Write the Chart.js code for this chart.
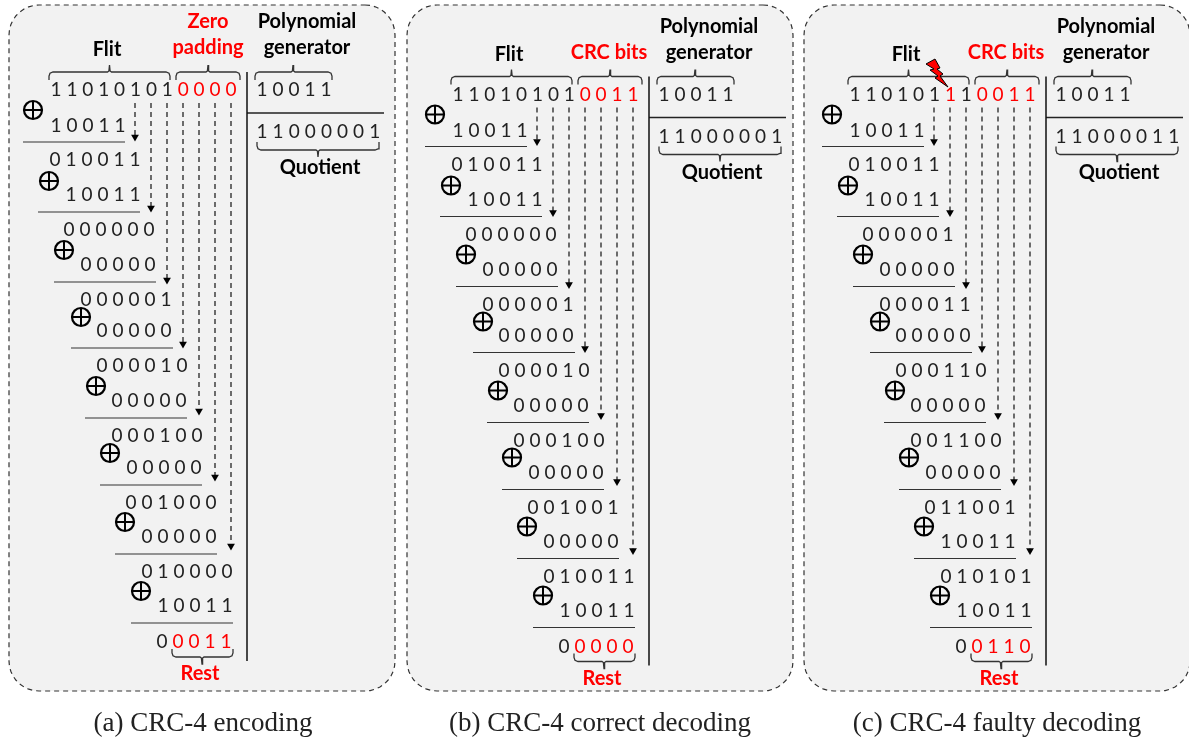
<!DOCTYPE html>
<html>
<head>
<meta charset="utf-8">
<title>CRC-4</title>
<script src="https://cdn.jsdelivr.net/npm/chart.js"></script>
<style>
  body { margin: 0; background: #fff; }
  canvas { display: block; }
</style>
</head>
<body>
<canvas id="myChart" width="1189" height="745"></canvas>
<script>
// bit strings, one list per panel
const captions = ['(a) CRC-4 encoding', '(b) CRC-4 correct decoding', '(c) CRC-4 faulty decoding'];
const flitBits = ['11010101', '11010101', '11010111'];
const crcBits = ['0000', '0011', '0011'];
const crcTitles = [['Zero', 'padding'], ['CRC bits'], ['CRC bits']];
const polyBits = '10011';
const quotients = ['11000001', '11000001', '11000011'];
const upperRowsA = ['010011', '000000', '000001', '000010', '000100', '001000', '010000'];
const upperRowsB = ['010011', '000000', '000001', '000010', '000100', '001001', '010011'];
const upperRowsC = ['010011', '000001', '000011', '000110', '001100', '011001', '010101'];
const lowerRowsA = ['10011', '10011', '00000', '00000', '00000', '00000', '00000', '10011'];
const lowerRowsB = ['10011', '10011', '00000', '00000', '00000', '00000', '00000', '10011'];
const lowerRowsC = ['10011', '10011', '00000', '00000', '00000', '00000', '10011', '10011'];
const rests = ['00011', '00000', '00110'];

// layout of one panel, the other two are shifted copies
const panelDx = [0, 402, 799];
const panelDy = [0, 4.5, 4.5];
const boxLeft = [9, 407, 804];
const captionX = [203, 600, 997];
const upperY = [90, 160, 230, 300, 366, 436, 503, 572];
const upperX = [56, 55, 69, 86, 102, 117, 131, 147];
const lowerY = [126, 195, 265, 331, 401, 468, 537, 606];
const lowerX = [56, 71, 86, 102, 117, 132, 147, 163];
const ruleY = [142, 212, 282, 348, 418, 485, 554, 623];
const ruleX = [23, 38, 54, 71, 85, 100, 115, 131];
const xorX = [33, 49, 64, 81, 96, 110, 125, 141];
const xorY = [110, 181, 250, 317, 386, 453, 522, 591];
const arrowX = [135, 151, 167, 183, 199, 215, 231];
const arrowY = [137, 208, 280, 344, 411, 477, 546];
const boltShape = [[-22, -23], [-13, -28], [-8, -19], [-11, -18], [-5, -13], [-8, -11], [0, 0], [-13, -9], [-10, -11], [-18, -17], [-14, -18]];

const step = 16;
const inkRed = '#ff0000';
const ink = '#222222';
const datasets = [];
const texts = [];

function addLine(points, color, width, dash) {
  datasets.push({
    data: points.map(p => ({ x: p[0], y: p[1] })),
    showLine: true,
    borderColor: color || '#333333',
    borderWidth: width || 1.2,
    borderDash: dash || [],
    pointRadius: 0,
    fill: false,
    order: 2
  });
}

function addShape(points, fillColor, lineColor, width, dash, order) {
  datasets.push({
    data: points.map(p => ({ x: p[0], y: p[1] })),
    showLine: true,
    backgroundColor: fillColor,
    borderColor: lineColor,
    borderWidth: width,
    borderDash: dash || [],
    pointRadius: 0,
    fill: 'shape',
    order: order
  });
}

function addText(str, x, y, font, color) {
  texts.push({ str: str, x: x, y: y, font: font, color: color });
}

function addBits(str, x, y, redBits, dx) {
  for (let i = 0; i < str.length; i++) {
    const c = (redBits && redBits.indexOf(i) >= 0) ? inkRed : ink;
    addText(str[i], x + i * (dx || step), y, '19px Lato', c);
  }
}

// curly brace: flat at y, feet towards y + dir * 8, stem towards y - dir * 7
function brace(x0, x1, mid, y, dir) {
  addLine([
    [x0, y + dir * 8], [x0, y + dir * 4], [x0 + 1, y + dir * 1.2], [x0 + 4, y],
    [mid - 2, y], [mid - 0.6, y - dir], [mid, y - dir * 7], [mid + 0.6, y - dir], [mid + 2, y],
    [x1 - 4, y], [x1 - 1, y + dir * 1.2], [x1, y + dir * 4], [x1, y + dir * 8]
  ], '#333333', 1.3);
}

function roundedBox(x0, y0, x1, y1, r) {
  const pts = [];
  const corners = [[x1 - r, y0 + r, -90], [x1 - r, y1 - r, 0], [x0 + r, y1 - r, 90], [x0 + r, y0 + r, 180]];
  corners.forEach(c => {
    for (let a = 0; a <= 90; a += 10) {
      const t = (c[2] + a) * Math.PI / 180;
      pts.push([c[0] + r * Math.cos(t), c[1] + r * Math.sin(t)]);
    }
  });
  pts.push(pts[0]);
  addShape(pts, '#f2f2f2', '#333333', 1.2, [5, 4], 5);
}

function addPanel(p, uppers, lowers, topRed, restRed) {
  const dx = panelDx[p];
  const dy = panelDy[p];
  const label = '700 20px Lato';

  roundedBox(boxLeft[p], 5, boxLeft[p] + 386, 691, 30);

  // titles
  addText('Flit', 107 + dx, 50 + dy, label, '#000');
  if (crcTitles[p].length === 2) {
    addText(crcTitles[p][0], 208 + dx, 22 + dy, label, inkRed);
    addText(crcTitles[p][1], 208 + dx, 48 + dy, label, inkRed);
  } else {
    addText(crcTitles[p][0], 207 + dx, 48 + dy, label, inkRed);
  }
  addText('Polynomial', 307 + dx, 22 + dy, label, '#000');
  addText('generator', 307 + dx, 48 + dy, label, '#000');
  addText('Quotient', 320 + dx, 168 + dy, label, '#000');
  addText('Rest', 200 + dx, 674 + dy, label, inkRed);

  // braces
  brace(49 + dx, 170 + dx, 109.5 + dx, 72 + dy, 1);
  brace(176 + dx, 240 + dx, 208 + dx, 72 + dy, 1);
  brace(255 + dx, 332 + dx, 293 + dx, 72 + dy, 1);
  brace(257 + dx, 379 + dx, 318 + dx, 150 + dy, -1);
  brace(172 + dx, 233 + dx, 202 + dx, 657 + dy, -1);

  // divider
  addLine([[247 + dx, 72 + dy], [247 + dx, 661 + dy]], '#111111', 1.5);
  addLine([[247 + dx, 113 + dy], [384 + dx, 113 + dy]], '#222222', 1.3);

  // top row, divisor and quotient
  addBits(flitBits[p] + crcBits[p], upperX[0] + dx, upperY[0] + dy, topRed, 15.9);
  addBits(polyBits, 262 + dx, upperY[0] + dy);
  addBits(quotients[p], 262 + dx, 132 + dy, null, 16.1);

  // long division rows
  lowers.forEach((bits, i) => {
    addBits(bits, lowerX[i] + dx, lowerY[i] + dy);
    addLine([[ruleX[i] + dx, ruleY[i] + dy], [ruleX[i] + 102 + dx, ruleY[i] + dy]]);
    if (i > 0) addBits(uppers[i - 1], upperX[i] + dx, upperY[i] + dy);
    datasets.push({
      data: [{ x: xorX[i] + dx, y: xorY[i] + dy }],
      pointStyle: 'circle', pointRadius: 9, pointBorderWidth: 2.2,
      pointBorderColor: '#000', pointBackgroundColor: 'transparent', order: 1
    });
    datasets.push({
      data: [{ x: xorX[i] + dx, y: xorY[i] + dy }],
      pointStyle: 'cross', pointRadius: 9, pointBorderWidth: 2,
      pointBorderColor: '#000', order: 1
    });
  });

  // remainder
  addBits(rests[p], upperX[7] + 15 + dx, 642 + dy, restRed);

  // bits brought down
  arrowX.forEach((x, i) => {
    addLine([[x + dx, 103 + dy], [x + dx, arrowY[i] + dy]], '#111111', 1.2, [5, 4]);
    datasets.push({
      data: [{ x: x + dx, y: arrowY[i] + dy }],
      pointStyle: 'triangle', pointRadius: 4.5, pointRotation: 180,
      pointBackgroundColor: '#000', pointBorderColor: '#000', pointBorderWidth: 0, order: 1
    });
  });

  addText(captions[p], captionX[p], 724, '27px "Liberation Serif"', '#222');
}

addPanel(0, upperRowsA, lowerRowsA, [8, 9, 10, 11], [1, 2, 3, 4]);
addPanel(1, upperRowsB, lowerRowsB, [8, 9, 10, 11], [1, 2, 3, 4]);
addPanel(2, upperRowsC, lowerRowsC, [6, 8, 9, 10, 11], [1, 2, 3, 4]);

// lightning bolt on the flipped bit
const boltTipX = 948;
const boltTipY = 87;
addShape(boltShape.map(s => [boltTipX + s[0], boltTipY + s[1]]).concat([[boltTipX + boltShape[0][0], boltTipY + boltShape[0][1]]]), inkRed, '#000000', 1, [], 0);

// real text, placed through the scales
const textPlugin = {
  id: 'textMarks',
  afterDatasetsDraw(chart) {
    const ctx = chart.ctx;
    ctx.save();
    ctx.textAlign = 'center';
    ctx.textBaseline = 'middle';
    texts.forEach(t => {
      ctx.font = t.font;
      ctx.fillStyle = t.color;
      ctx.fillText(t.str, chart.scales.x.getPixelForValue(t.x), chart.scales.y.getPixelForValue(t.y));
    });
    ctx.restore();
  }
};

new Chart(document.getElementById('myChart').getContext('2d'), {
  type: 'scatter',
  data: { datasets: datasets },
  options: {
    responsive: false,
    animation: false,
    layout: { padding: 0, autoPadding: false },
    plugins: { legend: { display: false }, tooltip: { enabled: false } },
    scales: {
      x: { type: 'linear', min: 0, max: 1189, display: false },
      y: { type: 'linear', min: 0, max: 745, reverse: true, display: false }
    }
  },
  plugins: [textPlugin]
});
</script>
</body>
</html>
